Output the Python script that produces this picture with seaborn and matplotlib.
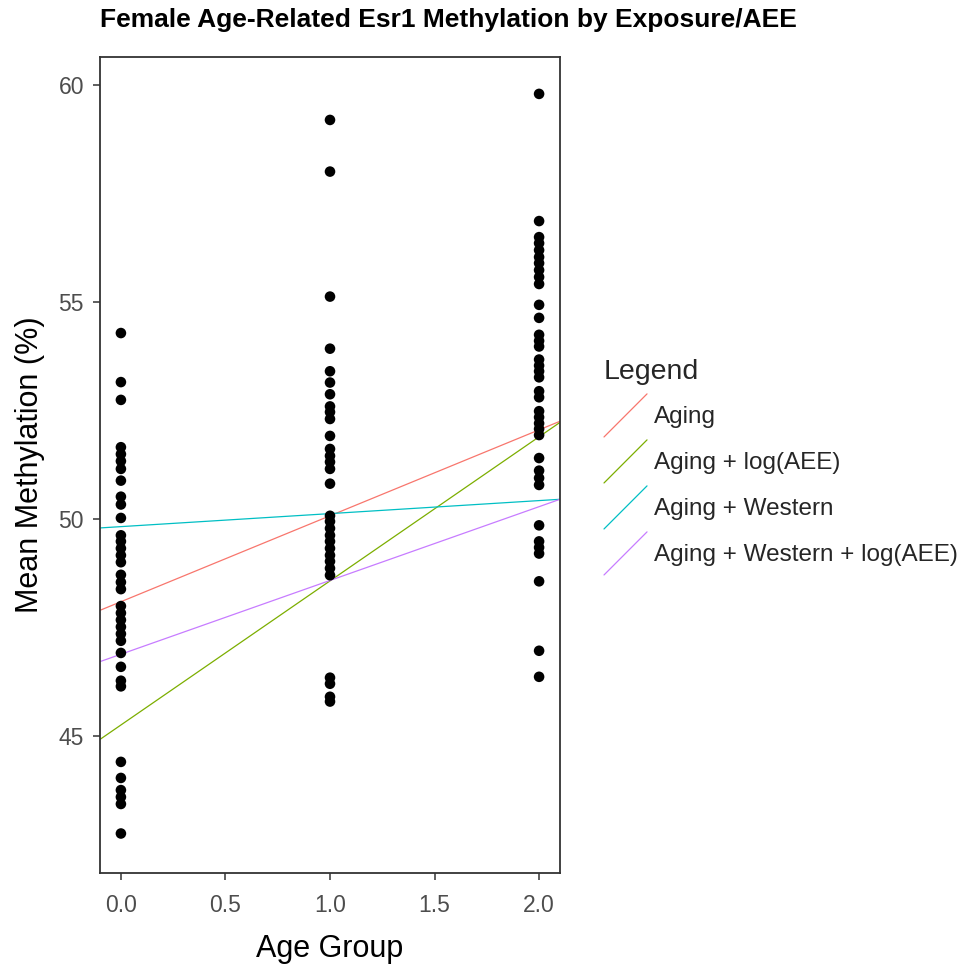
import matplotlib
matplotlib.use("Agg")
import matplotlib.pyplot as plt
from matplotlib.lines import Line2D
from matplotlib.legend_handler import HandlerBase
import seaborn as sns
import pandas as pd

# ---- data ----
age0 = [54.29, 53.16, 52.75, 51.66, 51.50, 51.34, 51.16, 50.89, 50.52, 50.34,
        50.03, 49.63, 49.49, 49.33, 49.17, 49.01, 48.72, 48.55, 48.39, 48.00,
        47.84, 47.68, 47.52, 47.36, 47.20, 46.92, 46.60, 46.28, 46.15, 44.41,
        44.04, 43.76, 43.60, 43.44, 42.76]
age1 = [59.20, 58.01, 55.13, 53.93, 53.41, 53.15, 52.88, 52.60, 52.47, 52.31,
        51.92, 51.62, 51.46, 51.32, 51.16, 50.82, 50.08, 49.95, 49.79, 49.63,
        49.49, 49.33, 49.17, 49.03, 48.87, 48.71, 46.35, 46.21, 45.91, 45.80]
age2 = [59.80, 56.87, 56.50, 56.36, 56.20, 56.04, 55.90, 55.74, 55.58, 55.42,
        54.94, 54.64, 54.25, 54.11, 53.98, 53.68, 53.54, 53.41, 53.27, 52.95,
        52.81, 52.49, 52.35, 52.21, 52.08, 51.94, 51.41, 51.12, 50.95, 50.79,
        49.86, 49.49, 49.35, 49.21, 48.57, 46.97, 46.37]

model_names = ["Aging", "Aging + log(AEE)", "Aging + Western", "Aging + Western + log(AEE)"]
intercepts = [48.10, 45.26, 49.83, 46.89]
slopes = [1.98, 3.32, 0.30, 1.70]
model_colors = ["#F8766D", "#7CAE00", "#00BFC4", "#C77CFF"]

x_ticks = [0.0, 0.5, 1.0, 1.5, 2.0]
y_ticks = [45, 50, 55, 60]

df = pd.DataFrame({
    "age": [0] * len(age0) + [1] * len(age1) + [2] * len(age2),
    "meth": age0 + age1 + age2,
})

sns.set_theme(style="white")
plt.rcParams["font.family"] = ["Liberation Sans", "DejaVu Sans"]

fig = plt.figure(figsize=(9.61, 9.66), dpi=100)
ax = fig.add_axes([100 / 961, 93 / 966, 460 / 961, 816 / 966])

sns.scatterplot(data=df, x="age", y="meth", color="black", s=58,
                edgecolor="none", ax=ax, zorder=3)

for name, b, m, c in zip(model_names, intercepts, slopes, model_colors):
    ax.axline((0, b), slope=m, color=c, lw=0.9, label=name, zorder=2)

ax.set_xlim(-0.1, 2.1)
ax.set_ylim(41.85, 60.65)
ax.set_xticks(x_ticks)
ax.set_xticklabels([f"{t:.1f}" for t in x_ticks])
ax.set_yticks(y_ticks)
ax.tick_params(axis="both", which="both", direction="out", length=5, width=1.1,
               color="#333333", labelcolor="#4D4D4D", labelsize=16.5,
               bottom=True, left=True)
ax.tick_params(axis="x", pad=10)
ax.tick_params(axis="y", pad=6.5)
for s in ax.spines.values():
    s.set_color("#333333")
    s.set_linewidth(1.3)
ax.set_xlabel("Age Group", fontsize=22, color="black", labelpad=12)
ax.set_ylabel("Mean Methylation (%)", fontsize=22, color="black", labelpad=10)

fig.text(100 / 961, 1 - 20 / 966, "Female Age-Related Esr1 Methylation by Exposure/AEE",
         fontsize=19, fontweight="bold", ha="left", va="center", color="black")


class HandlerDiag(HandlerBase):
    def create_artists(self, legend, orig_handle, xdescent, ydescent, width,
                       height, fontsize, trans):
        line = Line2D([-xdescent, -xdescent + width],
                      [-ydescent, -ydescent + height],
                      color=orig_handle.get_color(), lw=0.9)
        line.set_transform(trans)
        return [line]


handles = [Line2D([], [], color=c, lw=0.9) for c in model_colors]
leg = fig.legend(handles, model_names, loc="upper left",
                 bbox_to_anchor=(604 / 961, 1 - 359 / 966),
                 frameon=False, title="Legend", title_fontsize=20.5,
                 fontsize=17.5, handlelength=1.77, handleheight=2.35,
                 handletextpad=0.3, labelspacing=0.12, borderpad=0,
                 borderaxespad=0, alignment="left",
                 handler_map={Line2D: HandlerDiag()})
leg._legend_box.sep = 6.4

fig.savefig("out.png", dpi=100)
